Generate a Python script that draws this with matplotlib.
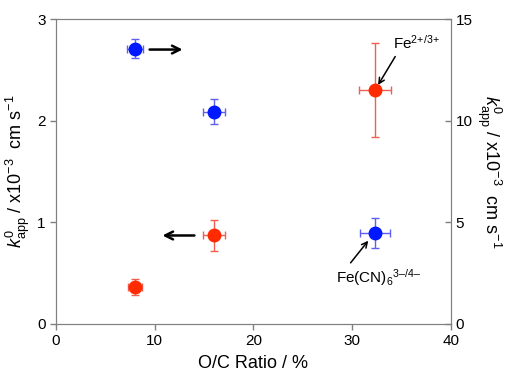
import matplotlib.pyplot as plt

plt.rcParams['font.family'] = ['Liberation Sans', 'DejaVu Sans']
plt.rcParams['mathtext.fontset'] = 'custom'
plt.rcParams['mathtext.rm'] = 'Liberation Sans'
plt.rcParams['mathtext.it'] = 'Liberation Sans:italic'

# Fe2+/3+ (left axis)
oc_red = [8.0, 16.0, 32.3]
k_red = [0.36, 0.87, 2.30]
k_red_err = [0.08, 0.15, 0.46]
oc_red_err = [0.7, 1.1, 1.6]

# Fe(CN)6 3-/4- (right axis)
oc_blue = [8.0, 16.0, 32.3]
k_blue = [13.55, 10.45, 4.47]
k_blue_err = [0.45, 0.62, 0.75]
oc_blue_err = [0.8, 1.1, 1.5]

fig = plt.figure(figsize=(5.09, 3.74), dpi=100)
ax = fig.add_axes([0.110, 0.134, 0.776, 0.815])
ax2 = ax.twinx()

ax.errorbar(oc_red, k_red, yerr=k_red_err, xerr=oc_red_err, fmt='o', ms=9,
            color='#ff2a00', ecolor='#f06050', elinewidth=1, capsize=3, capthick=1, zorder=3)
ax2.errorbar(oc_blue, k_blue, yerr=k_blue_err, xerr=oc_blue_err, fmt='o', ms=9,
             color='#0018ff', ecolor='#6060f0', elinewidth=1, capsize=3, capthick=1, zorder=3)

ax.set_xlim(0, 40)
ax.set_ylim(0, 3)
ax2.set_ylim(0, 15)
ax.set_xticks([0, 10, 20, 30, 40])
ax.set_yticks([0, 1, 2, 3])
ax2.set_yticks([0, 5, 10, 15])

for a in (ax, ax2):
    for s in a.spines.values():
        s.set_color('#808080')
    a.tick_params(labelsize=11, color='#808080', length=4, width=1)
ax.tick_params(axis='y', direction='out')
ax.tick_params(axis='x', direction='out')
ax2.tick_params(axis='y', direction='in')

ax.set_xlabel('O/C Ratio / %', fontsize=13, labelpad=5)
ax.set_ylabel(r'$k^0_{\mathrm{app}}$ / x10$^{-3}$  cm s$^{-1}$', fontsize=13, labelpad=4)
ax2.set_ylabel(r'$k^0_{\mathrm{app}}$ / x10$^{-3}$  cm s$^{-1}$', fontsize=13,
               rotation=270, labelpad=22)

arrow = dict(arrowstyle='->', color='black', lw=1.8, mutation_scale=14)
ax.annotate('', xy=(13.1, 2.7), xytext=(9.2, 2.7), arrowprops=arrow)
ax.annotate('', xy=(10.5, 0.87), xytext=(14.3, 0.87), arrowprops=arrow)

thin1 = dict(arrowstyle='->', color='black', lw=1.1, mutation_scale=10,
             relpos=(0.12, 0.0), shrinkA=2, shrinkB=1)
thin2 = dict(arrowstyle='->', color='black', lw=1.1, mutation_scale=10,
             relpos=(0.13, 1.0), shrinkA=1, shrinkB=2)
ax.annotate('Fe$^{2{+}/3{+}}$', xy=(32.55, 2.34), xytext=(34.1, 2.77), fontsize=11,
            ha='left', va='center', arrowprops=thin1)
ax.annotate('Fe(CN)$_6$$^{3\u2013/4\u2013}$', xy=(31.8, 0.84), xytext=(28.4, 0.46),
            fontsize=11, ha='left', va='center', arrowprops=thin2)

fig.savefig('out.png', dpi=100)
